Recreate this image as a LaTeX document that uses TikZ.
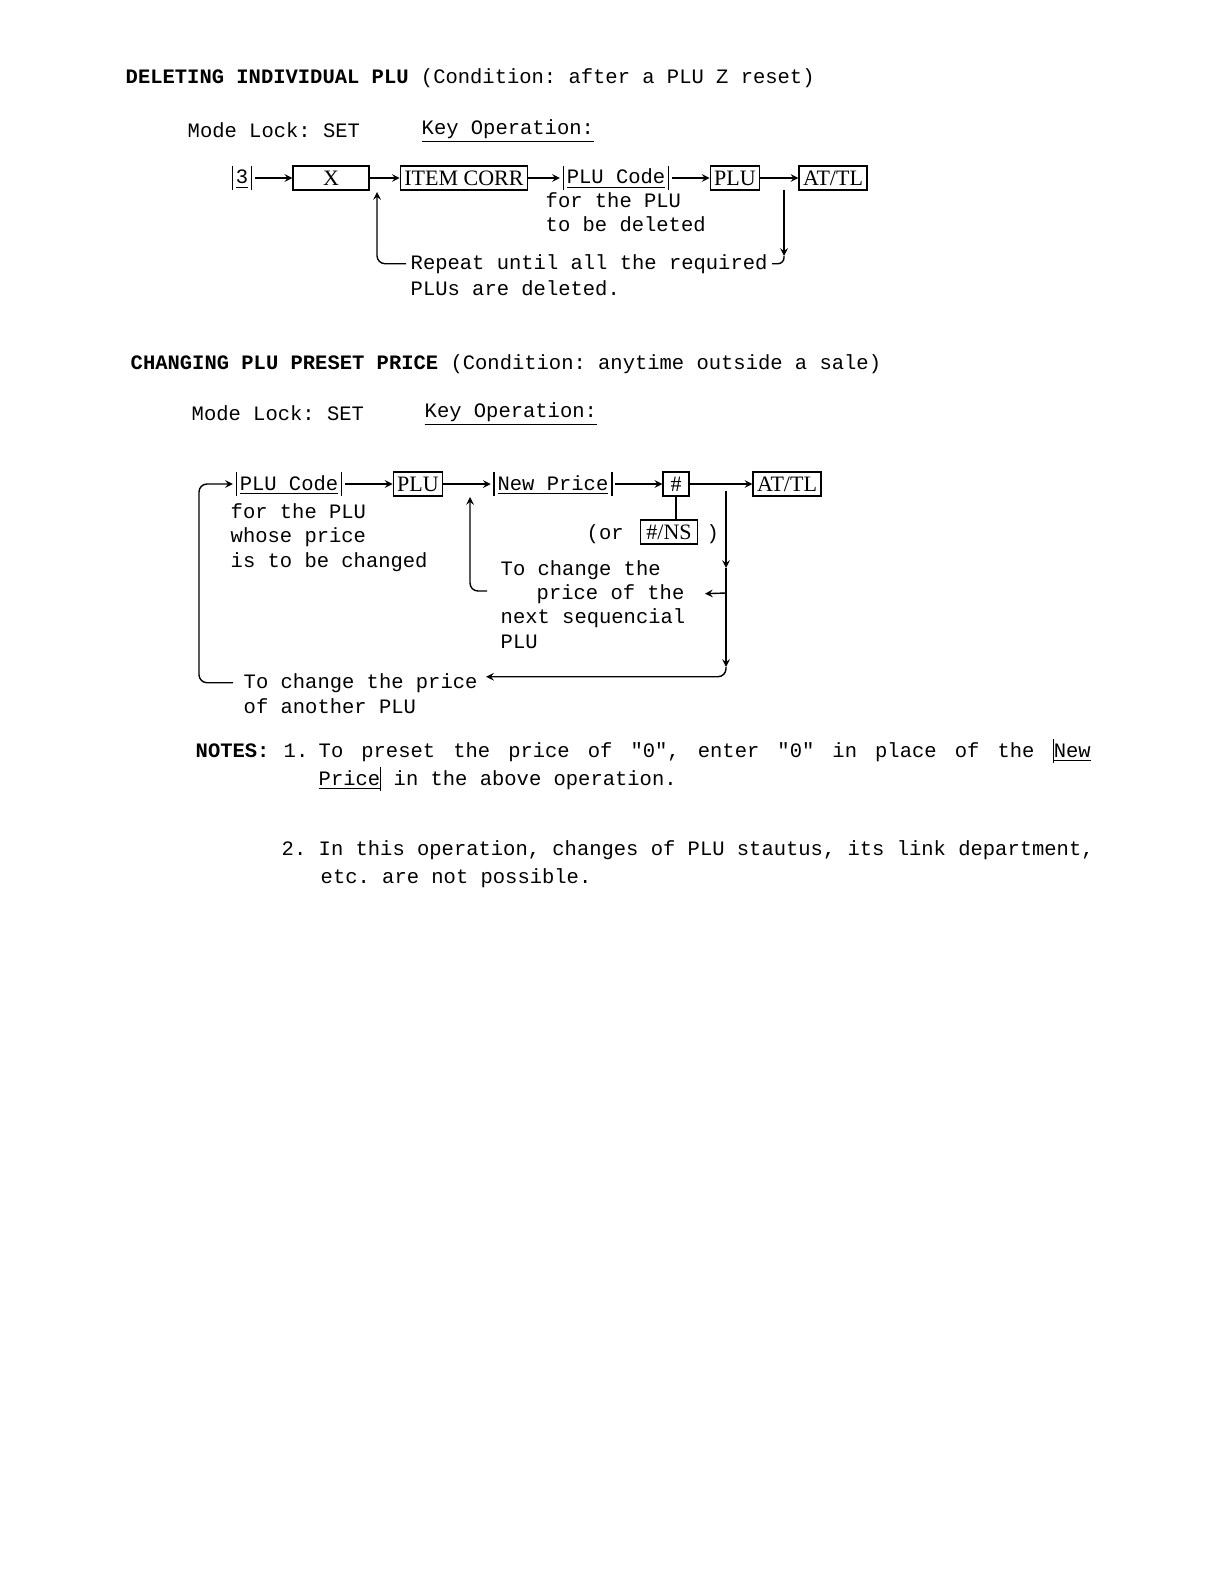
\documentclass[tikz,border=0pt]{standalone}
\usepackage{fontspec}
\setmainfont{Liberation Mono}[Ligatures=TeXOff]
\newfontfamily\keyfont{Liberation Serif}
\usetikzlibrary{arrows}
\frenchspacing

\newcommand{\keybar}{\rule[-3pt]{0.6pt}{12pt}}
\newcommand{\numentry}[1]{\keybar\kern1.5pt\underline{#1}\kern1.5pt\keybar}

\tikzset{
  keybox/.style={draw, font=\keyfont\fontsize{11}{12}\selectfont, minimum height=12pt, inner xsep=2pt, inner ysep=0pt},
  numkey/.style={inner sep=1pt},
  txt/.style={anchor=base west, inner sep=0pt},
}

\begin{document}
\begin{tikzpicture}[x=0.5pt, y=-0.5pt, line width=0.7pt, >=stealth, font=\fontsize{10.25}{12.25}\selectfont]
\fill[white] (0,0) rectangle (1224,1584);
\useasboundingbox (0,0) rectangle (1224,1584);

% deleting individual PLU
\node[txt] (title1) at (125,84) {\textbf{DELETING INDIVIDUAL PLU} (Condition: after a PLU Z reset)};
\node[txt] (mode1) at (187,137) {Mode Lock: SET};
\node[txt] (keyop1) at (421,134) {\underline{Key Operation:}};

\node[numkey] (three) at (242,178) {\numentry{3}};
\node[keybox, minimum width=38pt] (xkey) at (331,178) {X};
\node[keybox] (itemcorr) at (464,178) {ITEM CORR};
\node[numkey] (code1) at (616,178) {\numentry{PLU Code}};
\node[keybox] (plu1) at (735,178) {PLU};
\node[keybox] (attl1) at (833,178) {AT/TL};
\foreach \a/\b in {three/xkey, xkey/itemcorr, itemcorr/code1, code1/plu1, plu1/attl1}
  \draw[->] (\a) -- (\b);

\node[txt] (del1) at (545,207) {for the PLU};
\node[txt] (del2) at (545,231) {to be deleted};
\node[txt] (repeat) at (410,269) {Repeat until all the required};
\node[txt] (plus) at (410,295) {PLUs are deleted.};

\coordinate (back1) at (377,192);
\coordinate (down1a) at (784,190);
\coordinate (down1b) at (784,256);
\draw[->, rounded corners=4pt] ([xshift=-2pt]repeat.west) -| (back1);
\draw[->] (down1a) -- (down1b);
\draw[rounded corners=3pt] (down1b) |- ([xshift=2pt]repeat.east);

% changing PLU preset price
\node[txt] (title2) at (130,369) {\textbf{CHANGING PLU PRESET PRICE} (Condition: anytime outside a sale)};
\node[txt] (mode2) at (191,420) {Mode Lock: SET};
\node[txt] (keyop2) at (424,417) {\underline{Key Operation:}};

\node[numkey] (code2) at (289,484) {\numentry{PLU Code}};
\node[keybox] (plu2) at (418,484) {PLU};
\node[numkey] (price) at (553,484) {\numentry{New Price}};
\node[keybox, minimum width=13pt] (hash) at (676,484) {\#};
\node[keybox] (attl2) at (787,484) {AT/TL};
\foreach \a/\b in {code2/plu2, plu2/price, price/hash, hash/attl2}
  \draw[->] (\a) -- (\b);

\node[txt] (wh1) at (230,518) {for the PLU};
\node[txt] (wh2) at (230,542) {whose price};
\node[txt] (wh3) at (230,567) {is to be changed};

\node[txt] (orl) at (586,539) {(or};
\node[keybox, inner xsep=3pt] (ns) at (669,532) {\#/NS};
\node[txt] (orr) at (706,539) {)};
\draw (hash.south) -- (hash.south |- ns.north);

\node[txt] (nx1) at (500,575) {To change the};
\node[txt] (nx2) at (536,599) {price of the};
\node[txt] (nx3) at (500,623) {next sequencial};
\node[txt] (nx4) at (500,648) {PLU};
\node[txt] (an1) at (243,688) {To change the price};
\node[txt] (an2) at (243,713) {of another PLU};

\coordinate (loopl) at (199,600);
\coordinate (hook2) at (487,591);
\coordinate (up2) at (470,497);
\coordinate (r2top) at (726,491);
\coordinate (r2mid) at (726,568);
\coordinate (r2fork) at (726,593);
\coordinate (r2low) at (726,667);
\draw[->, rounded corners=4pt] ([xshift=-5pt]an1.west) -| (loopl) |- (code2.west);
\draw[->, rounded corners=4pt] (hook2) -| (up2);
\draw[->] (r2top) -- (r2mid);
\draw[->] (r2mid) -- (r2low);
\draw[->] (r2fork) -- ([xshift=10pt]nx2.east);
\draw[->, rounded corners=4pt] (r2low) |- ([xshift=4pt,yshift=3pt]an1.east);

% notes
\node[txt] (notes) at (195,757) {\textbf{NOTES:}};
\node[txt] (n1) at (283,757) {1.};
\node[txt] (n1a) at (318,757) {\hbox to 386pt{\spaceskip=0.6em plus 1fil\relax To preset the price of "0", enter "0" in place of the \keybar\underline{New}}};
\node[txt] (n1b) at (318,785) {\underline{Price}\keybar\ in the above operation.};
\node[txt] (n2) at (281,855) {2.};
\node[txt] (n2a) at (318,855) {In this operation, changes of PLU stautus, its link department,};
\node[txt] (n2b) at (320,883) {etc. are not possible.};
\end{tikzpicture}
\end{document}
